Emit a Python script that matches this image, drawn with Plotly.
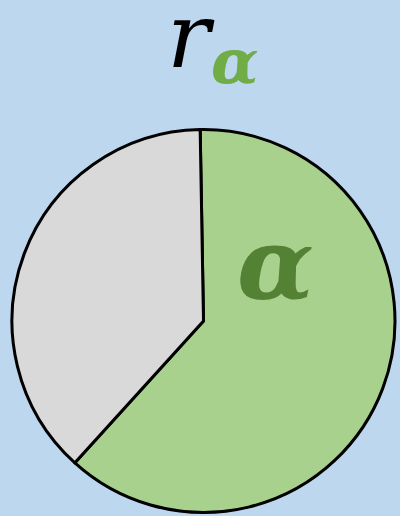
import plotly.graph_objects as go

# Share of the pie taken by the α part and by the remainder
slice_names = ["α", "rest"]
slice_values = [62, 38]
slice_colors = ["#A9D18E", "#D9D9D9"]

BG = "#BDD7EE"

fig = go.Figure(
    go.Pie(
        labels=slice_names,
        values=slice_values,
        sort=False,
        direction="clockwise",
        rotation=-1,
        marker=dict(colors=slice_colors, line=dict(color="black", width=3)),
        textinfo="none",
        hoverinfo="label+percent",
        showlegend=False,
        domain=dict(x=[0.03, 0.9875], y=[0.0068, 0.749]),
    )
)

# Title: r with a green α subscript
fig.add_annotation(
    x=191, y=426, xref="x", yref="y", xanchor="center", yanchor="bottom",
    text="<i>r</i>", showarrow=False,
    font=dict(family="DejaVu Serif", size=90, color="black"),
)
fig.add_annotation(
    x=235, y=416, xref="x", yref="y", xanchor="center", yanchor="bottom",
    text="<b><i>α</i></b>", showarrow=False,
    font=dict(family="DejaVu Serif", size=62, color="#70AD47"),
)
# Label inside the α slice
fig.add_annotation(
    x=275, y=516 - 264, xref="x", yref="y", xanchor="center", yanchor="middle",
    text="<b><i>α</i></b>", showarrow=False,
    font=dict(family="DejaVu Serif", size=100, color="#548235"),
)

fig.update_xaxes(range=[0, 400], visible=False)
fig.update_yaxes(range=[0, 516], visible=False)
fig.update_layout(
    width=400, height=516,
    margin=dict(l=0, r=0, t=0, b=0),
    paper_bgcolor=BG, plot_bgcolor=BG,
)

fig.write_html("out.html")
